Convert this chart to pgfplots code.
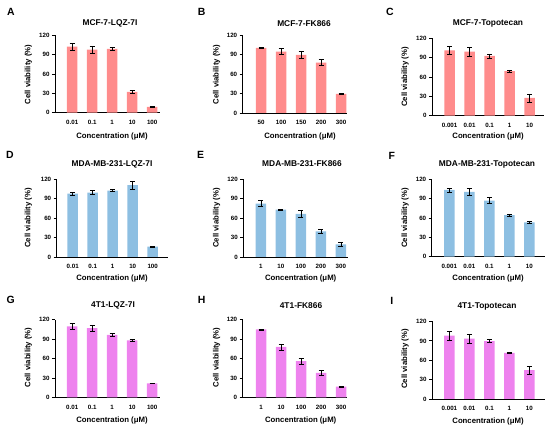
\documentclass[border=0pt]{standalone}
\usepackage{fontspec}
\setmainfont{Liberation Sans}
\usepackage{pgfplots}
\pgfplotsset{compat=1.18}
\definecolor{cA}{HTML}{FF8C8C}
\definecolor{cB}{HTML}{8DBFE2}
\definecolor{cC}{HTML}{EE82EE}
\pgfplotsset{
 panel/.style={
  scale only axis, height=77.5bp, ymin=0, ymax=120,
  axis lines*=left, axis line style={line width=0.8pt, -},
  ytick={0,30,60,90,120}, yticklabels={0,30,60,90,120},
  xtick={0,1,2,3,4},
  tick align=outside, major tick length=3bp,
  ytick style={line width=0.8pt, black},
  xtick style={draw=none},
  tick label style={font=\bfseries\fontsize{6.2}{7}\selectfont},
  xticklabel shift=1bp, yticklabel shift=-1bp,
  clip=false, anchor=south west,
 },
 bars/.style={ybar, bar width=10.5bp, fill=#1, draw=none,
  error bars/.cd, y dir=both, y explicit, error mark=-,
  error bar style={draw=black, line width=0.6pt},
  error mark options={draw=black, line width=0.6pt, mark size=2.5bp, rotate=90}},
}
\newcommand\ttl[1]{\bfseries\fontsize{8.4}{10}\selectfont #1}
\newcommand\lbl[1]{\bfseries\fontsize{7.8}{9}\selectfont #1}
\newcommand\plet[1]{\bfseries\fontsize{10.5}{12}\selectfont #1}
\begin{document}
\begin{tikzpicture}
\useasboundingbox (0,0) rectangle (550bp,429bp);
% ---------- Row 1 ----------
\begin{axis}[panel, at={(55bp,316.3bp)}, width=104.8bp, xmin=-0.86, xmax=4.38,
  xticklabels={0.01,0.1,1,10,100}]
\addplot[bars=cA] coordinates {(0,102.2) +- (0,5) (1,97.5) +- (0,6) (2,99) +- (0,2.8) (3,32.3) +- (0,2.8) (4,8.9) +- (0,0.8)};
\end{axis}
\begin{axis}[panel, at={(242.7bp,316bp)}, width=104bp, xmin=-0.92, xmax=4.28,
  xticklabels={50,100,150,200,300}]
\addplot[bars=cA] coordinates {(0,100.9) +- (0,1) (1,95.2) +- (0,5) (2,90) +- (0,5) (3,78) +- (0,4.8) (4,29.5) +- (0,1.3)};
\end{axis}
\begin{axis}[panel, at={(432bp,313.3bp)}, width=112bp, xmin=-0.88, xmax=4.72,
  xticklabels={0.001,0.01,0.1,1,10}]
\addplot[bars=cA] coordinates {(0,101.3) +- (0,6) (1,99.2) +- (0,7) (2,92.5) +- (0,3) (3,69.1) +- (0,1.8) (4,27.5) +- (0,6)};
\end{axis}
% ---------- Row 2 ----------
\begin{axis}[panel, at={(56.7bp,172bp)}, width=111.2bp, xmin=-0.8, xmax=4.76,
  xticklabels={0.01,0.1,1,10,100}]
\addplot[bars=cB] coordinates {(0,98.2) +- (0,2.5) (1,99.7) +- (0,3) (2,102.9) +- (0,1.3) (3,111.2) +- (0,5.7) (4,16.1) +- (0,0.8)};
\end{axis}
\begin{axis}[panel, at={(243.3bp,172bp)}, width=105bp, xmin=-0.88, xmax=4.37,
  xticklabels={1,10,100,200,300}]
\addplot[bars=cB] coordinates {(0,82.8) +- (0,5) (1,73.5) +- (0,0.8) (2,66.7) +- (0,5) (3,39.8) +- (0,3.5) (4,19.7) +- (0,3.5)};
\end{axis}
\begin{axis}[panel, at={(431.7bp,172.3bp)}, width=113.2bp, xmin=-0.88, xmax=4.78,
  xticklabels={0.001,0.01,0.1,1,10}]
\addplot[bars=cB] coordinates {(0,103.4) +- (0,3) (1,100.3) +- (0,5) (2,86.8) +- (0,4.7) (3,64.4) +- (0,2) (4,53) +- (0,1.5)};
\end{axis}
% ---------- Row 3 ----------
\begin{axis}[panel, at={(55bp,31.7bp)}, width=105.2bp, xmin=-0.86, xmax=4.4,
  xticklabels={0.01,0.1,1,10,100}]
\addplot[bars=cC] coordinates {(0,109.7) +- (0,5) (1,107) +- (0,5) (2,96.7) +- (0,3) (3,88) +- (0,2) (4,21.7) +- (0,0.6)};
\end{axis}
\begin{axis}[panel, at={(242.7bp,31.7bp)}, width=104bp, xmin=-0.92, xmax=4.28,
  xticklabels={1,10,100,200,300}]
\addplot[bars=cC] coordinates {(0,105) +- (0,0.8) (1,78) +- (0,4.5) (2,55.9) +- (0,4.7) (3,37.8) +- (0,4) (4,16.5) +- (0,1.3)};
\end{axis}
\begin{axis}[panel, at={(432bp,30bp)}, width=113bp, xmin=-0.87, xmax=4.78,
  xticklabels={0.001,0.01,0.1,1,10}]
\addplot[bars=cC] coordinates {(0,98) +- (0,6.5) (1,93.4) +- (0,6.8) (2,89.7) +- (0,2) (3,71.5) +- (0,1.5) (4,44.9) +- (0,6)};
\end{axis}
% ---------- Titles ----------
\begin{scope}[every node/.style={inner sep=0pt}]
\node at (110bp,405.7bp) {\ttl{MCF-7-LQZ-7I}};
\node at (304bp,405.7bp) {\ttl{MCF-7-FK866}};
\node at (488bp,405.7bp) {\ttl{MCF-7-Topotecan}};
\node at (112bp,265bp) {\ttl{MDA-MB-231-LQZ-7I}};
\node at (302bp,265bp) {\ttl{MDA-MB-231-FK866}};
\node at (487bp,265bp) {\ttl{MDA-MB-231-Topotecan}};
\node at (113bp,123.3bp) {\ttl{4T1-LQZ-7I}};
\node at (301bp,123.3bp) {\ttl{4T1-FK866}};
\node at (487bp,123bp) {\ttl{4T1-Topotecan}};
% letters
\node at (11bp,417.3bp) {\plet{A}};
\node at (201.7bp,417.3bp) {\plet{B}};
\node at (390bp,417.3bp) {\plet{C}};
\node at (10bp,274bp) {\plet{D}};
\node at (200.7bp,274bp) {\plet{E}};
\node at (391.7bp,273.3bp) {\plet{F}};
\node at (10.7bp,129bp) {\plet{G}};
\node at (201.7bp,129bp) {\plet{H}};
\node at (391.7bp,128.3bp) {\plet{I}};
% y labels
\foreach \x/\y in {28.3/354.5, 216.7/354.5, 405/352, 28.3/211, 216.7/211, 405/211, 28.3/71.7, 216.7/71.7, 405/70}
  \node[rotate=90] at (\x bp,\y bp) {\lbl{Cell viability (\%)}};
% x labels
\foreach \x/\y in {112/293, 300/293, 488/292.3, 112/151, 300.7/151, 488/151, 112/9, 300.7/9, 488/8}
  \node at (\x bp,\y bp) {\lbl{Concentration (μM)}};
\end{scope}
\end{tikzpicture}
\end{document}
